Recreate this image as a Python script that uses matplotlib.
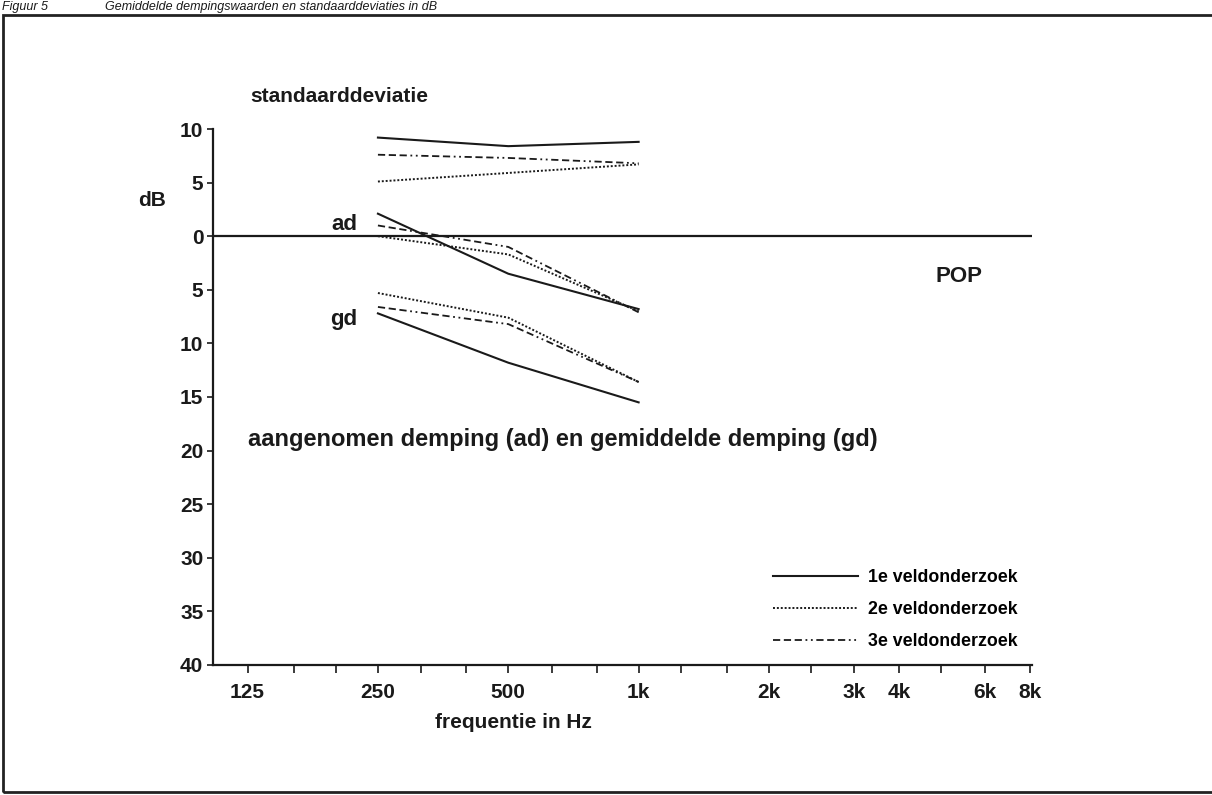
import matplotlib
matplotlib.use("Agg")
import matplotlib.pyplot as plt
from matplotlib.patches import Rectangle
from matplotlib.lines import Line2D
from matplotlib.ticker import FixedLocator, FixedFormatter, NullLocator

plt.rcParams['font.family'] = ['Liberation Sans', 'DejaVu Sans']
plt.rcParams['font.weight'] = 'bold'

# ── data ──────────────────────────────────────────────────────────────────────
freq = [250, 500, 1000]

# standaarddeviatie (dB, plotted upwards)
sd_1e = [9.2, 8.4, 8.8]
sd_2e = [5.1, 5.9, 6.7]
sd_3e = [7.6, 7.3, 6.8]

# aangenomen demping (dB, plotted downwards)
ad_1e = [-2.1, 3.5, 6.8]
ad_2e = [0.0, 1.7, 7.0]
ad_3e = [-1.0, 1.0, 7.1]

# gemiddelde demping (dB, plotted downwards)
gd_1e = [7.2, 11.8, 15.5]
gd_2e = [5.3, 7.6, 13.6]
gd_3e = [6.6, 8.2, 13.6]

series_names = ['1e veldonderzoek', '2e veldonderzoek', '3e veldonderzoek']

x_ticks = [125, 160, 200, 250, 315, 400, 500, 630, 800, 1000,
           1250, 1600, 2000, 2500, 3150, 4000, 5000, 6300, 8000]
x_labels = ['125', '', '', '250', '', '', '500', '', '', '1k',
            '', '', '2k', '', '3k', '4k', '', '6k', '8k']
y_ticks = [10, 5, 0, -5, -10, -15, -20, -25, -30, -35, -40]

# ── styling ───────────────────────────────────────────────────────────────────
INK = '#1a1a1a'
styles = [
    dict(linestyle='-', linewidth=1.5),
    dict(linestyle=(0, (1, 1)), linewidth=1.4),
    dict(linestyle=(0, (4, 2, 4, 2, 4, 2, 1, 2, 1, 2)), linewidth=1.3),
]

fig = plt.figure(figsize=(12.12, 7.95), dpi=100)
ax = fig.add_axes([213 / 1212, 1 - 665 / 795, (1032 - 213) / 1212, (665 - 129) / 795])

for vals, st in zip([sd_1e, sd_2e, sd_3e], styles):
    ax.plot(freq, vals, color=INK, **st)
for vals, st in zip([ad_1e, ad_2e, ad_3e], styles):
    ax.plot(freq, [-v for v in vals], color=INK, **st)
for vals, st in zip([gd_1e, gd_2e, gd_3e], styles):
    ax.plot(freq, [-v for v in vals], color=INK, **st)

ax.axhline(0, color=INK, linewidth=1.6)

ax.set_xscale('log')
ax.set_xlim(104, 8100)
ax.set_ylim(-40, 10)
ax.xaxis.set_major_locator(FixedLocator(x_ticks))
ax.xaxis.set_major_formatter(FixedFormatter(x_labels))
ax.xaxis.set_minor_locator(NullLocator())
ax.set_yticks(y_ticks)
ax.set_yticklabels([str(abs(v)) for v in y_ticks])

for s in ['top', 'right']:
    ax.spines[s].set_visible(False)
for s in ['left', 'bottom']:
    ax.spines[s].set_linewidth(1.6)
    ax.spines[s].set_color(INK)

ax.tick_params(axis='x', direction='out', length=6, width=1.2, pad=7,
               labelsize=15, colors=INK)
ax.tick_params(axis='y', direction='out', length=4, width=1.2, pad=3,
               labelsize=15, colors=INK)
for lab in ax.get_xticklabels() + ax.get_yticklabels():
    lab.set_fontweight('bold')

# ── annotations ───────────────────────────────────────────────────────────────
ax.text(127, 13.0, 'standaarddeviatie', fontsize=15, fontweight='bold',
        ha='left', va='center', clip_on=False, color=INK)
ax.text(224, 1.1, 'ad', fontsize=16, fontweight='bold', ha='right', va='center', color=INK)
ax.text(224, -7.8, 'gd', fontsize=16, fontweight='bold', ha='right', va='center', color=INK)
ax.text(5500, -3.8, 'POP', fontsize=16, fontweight='bold', ha='center', va='center', color=INK)
ax.text(125, -19.0, 'aangenomen demping (ad) en gemiddelde demping (gd)',
        fontsize=17, fontweight='bold', ha='left', va='center', color=INK)

fig.text(152 / 1212, 1 - 200 / 795, 'dB', fontsize=15, fontweight='bold',
         ha='center', va='center', color=INK)
fig.text(513 / 1212, 1 - 722 / 795, 'frequentie in Hz', fontsize=15,
         fontweight='bold', ha='center', va='center', color=INK)

# caption line above the frame
fig.text(2 / 1212, 1 - 1 / 795, 'Figuur 5', fontsize=9, style='italic',
         fontweight='normal', ha='left', va='top', color=INK)
fig.text(105 / 1212, 1 - 1 / 795, 'Gemiddelde dempingswaarden en standaarddeviaties in dB',
         fontsize=9, style='italic', fontweight='normal', ha='left', va='top', color=INK)

# ── legend ────────────────────────────────────────────────────────────────────
handles = [Line2D([], [], color=INK, **st) for st in styles]
leg = ax.legend(handles, series_names, loc='upper left', frameon=False,
                bbox_to_anchor=(773 / 1212, 1 - 569 / 795),
                bbox_transform=fig.transFigure, borderpad=0, borderaxespad=0,
                handlelength=4.8, handletextpad=0.55, labelspacing=0.85,
                prop={'size': 12.8, 'weight': 'bold'})

# frame round the whole figure
fig.add_artist(Rectangle((3 / 1212, 3 / 795), 1.05, 1 - 18 / 795,
                         transform=fig.transFigure, fill=False,
                         edgecolor='#222222', linewidth=2))

fig.savefig('out.png', dpi=100)
